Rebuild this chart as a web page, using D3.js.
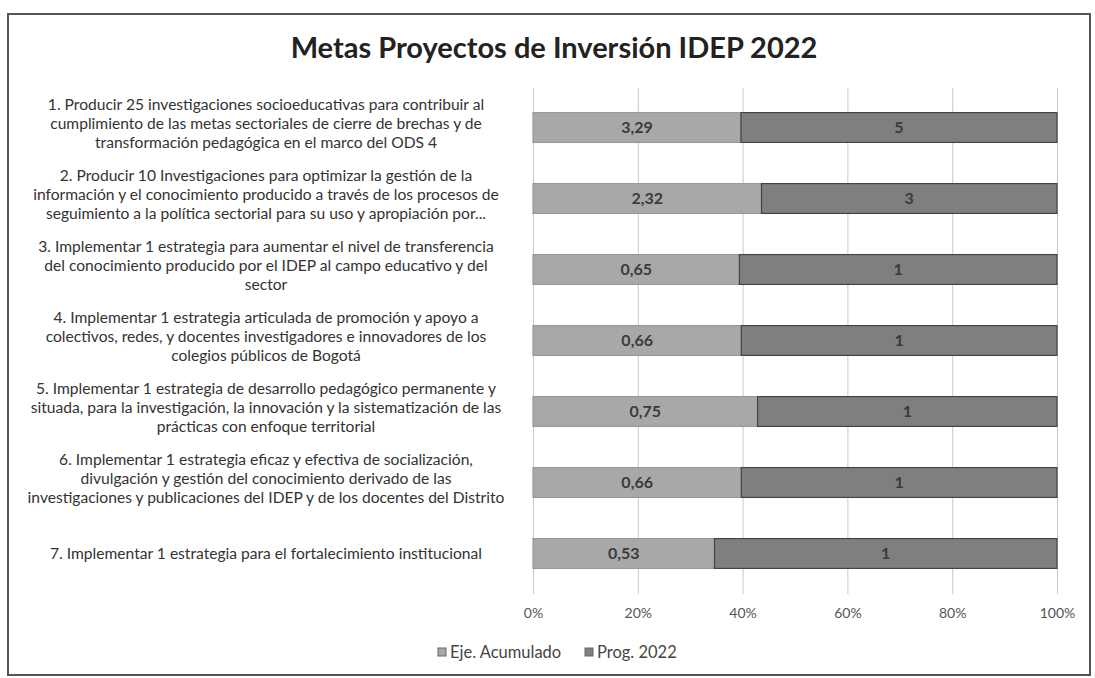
<!DOCTYPE html>
<html>
<head>
<meta charset="utf-8">
<script src="https://cdn.jsdelivr.net/npm/d3@7"></script>
<style>
  body { margin: 0; background: #fff; }
  svg { display: block; font-family: Lato, "Open Sans", sans-serif; }
</style>
</head>
<body>
<div id="chart"></div>
<script>
// Metas (etiquetas del eje, en líneas como aparecen)
const metas = [
    ["1. Producir 25 investigaciones socioeducativas para contribuir al",
     "cumplimiento de las metas sectoriales de cierre de brechas y de",
     "transformación pedagógica en el marco del ODS 4"],
    ["2. Producir 10 Investigaciones para optimizar la gestión de la",
     "información y el conocimiento producido a través de los procesos de",
     "seguimiento a la política sectorial para su uso y apropiación por..."],
    ["3. Implementar 1 estrategia para aumentar el nivel de transferencia",
     "del conocimiento producido por el IDEP al campo educativo y del",
     "sector"],
    ["4. Implementar 1 estrategia articulada de promoción y apoyo a",
     "colectivos, redes, y docentes investigadores e innovadores de los",
     "colegios públicos de Bogotá"],
    ["5. Implementar 1 estrategia de desarrollo pedagógico permanente  y",
     "situada, para la investigación, la innovación y la sistematización de las",
     "prácticas con  enfoque territorial"],
    ["6. Implementar 1 estrategia eficaz y efectiva de socialización,",
     "divulgación  y gestión del conocimiento derivado de las",
     "investigaciones y publicaciones del IDEP y de los docentes del Distrito"],
    ["7. Implementar 1 estrategia para el fortalecimiento institucional"]
];

const ejeAcumulado = [3.29, 2.32, 0.65, 0.66, 0.75, 0.66, 0.53];
const prog2022 = [5, 3, 1, 1, 1, 1, 1];

const seriesNames = ["Eje. Acumulado", "Prog. 2022"];
const xTicks = [0, 0.2, 0.4, 0.6, 0.8, 1];

const W = 1095, H = 678;
const colors = { "Eje. Acumulado": "#a8a8a8", "Prog. 2022": "#7f7f7f" };
const fmt = v => String(v).replace(".", ",");

const rows = metas.map((m, i) => ({
    id: i,
    lines: m,
    "Eje. Acumulado": ejeAcumulado[i],
    "Prog. 2022": prog2022[i]
}));

const svg = d3.select("#chart").append("svg")
    .attr("width", W)
    .attr("height", H);

// marco del gráfico
svg.append("rect")
    .attr("x", 8).attr("y", 14)
    .attr("width", 1082).attr("height", 661)
    .attr("fill", "#fff")
    .attr("stroke", "#555")
    .attr("stroke-width", 2);

// título
svg.append("text")
    .attr("x", 554)
    .attr("y", 58)
    .attr("text-anchor", "middle")
    .attr("font-size", 29)
    .attr("font-weight", "bold")
    .attr("fill", "#222")
    .text("Metas Proyectos de Inversión IDEP 2022");

const x = d3.scaleLinear().domain([0, 1]).range([533, 1057]);
const y = d3.scaleBand()
    .domain(rows.map(d => d.id))
    .range([92, 589])
    .paddingInner(0.58)
    .paddingOuter(0.29);

// rejilla y eje
const axisY = 594;
const axis = svg.append("g")
    .attr("transform", `translate(0,${axisY})`)
    .call(d3.axisBottom(x)
        .tickValues(xTicks)
        .tickFormat(d3.format(".0%"))
        .tickSize(-(axisY - 88))
        .tickPadding(14));
axis.select(".domain").remove();
axis.selectAll(".tick line").attr("stroke", "#c9c9c9");
axis.selectAll(".tick text")
    .attr("font-size", 14)
    .attr("fill", "#555")
    .attr("font-family", "Lato, sans-serif");

// barras apiladas al 100%
const stack = d3.stack()
    .keys(seriesNames)
    .offset(d3.stackOffsetExpand);
const stacked = stack(rows);

const groups = svg.selectAll(".serie")
    .data(stacked)
    .enter().append("g")
    .attr("class", "serie");

groups.selectAll("rect")
    .data(s => s.map(p => ({ key: s.key, p })))
    .enter().append("rect")
    .attr("x", d => x(d.p[0]))
    .attr("y", d => y(d.p.data.id))
    .attr("width", d => x(d.p[1]) - x(d.p[0]))
    .attr("height", y.bandwidth())
    .attr("fill", d => colors[d.key])
    .attr("stroke", d => d.key === "Prog. 2022" ? "#444" : "#999")
    .attr("stroke-width", 1.2);

groups.selectAll("text")
    .data(s => s.map(p => ({ key: s.key, p })))
    .enter().append("text")
    .attr("x", d => (x(d.p[0]) + x(d.p[1])) / 2)
    .attr("y", d => y(d.p.data.id) + y.bandwidth() / 2)
    .attr("dy", "0.35em")
    .attr("text-anchor", "middle")
    .attr("font-size", 16)
    .attr("font-weight", "bold")
    .attr("fill", "#3a3a3a")
    .text(d => fmt(d.p.data[d.key]));

// etiquetas de categorías
const lineH = 19;
const labels = svg.selectAll(".meta")
    .data(rows)
    .enter().append("text")
    .attr("class", "meta")
    .attr("text-anchor", "middle")
    .attr("font-size", 15.6)
    .attr("fill", "#333");

labels.each(function(d) {
    const cy = y(d.id) + y.bandwidth() / 2 - (d.lines.length > 1 ? 4 : 0);
    const y0 = cy - (d.lines.length - 1) * lineH / 2;
    d3.select(this).selectAll("tspan")
        .data(d.lines)
        .enter().append("tspan")
        .attr("x", 266)
        .attr("y", (l, i) => y0 + i * lineH)
        .attr("dy", "0.35em")
        .text(l => l);
});

// leyenda
const legend = svg.append("g").attr("transform", "translate(438,652)");
const legendX = [0, 147];
seriesNames.forEach((name, i) => {
    const g = legend.append("g").attr("transform", `translate(${legendX[i]},0)`);
    g.append("rect")
        .attr("x", 0).attr("y", -4)
        .attr("width", 8).attr("height", 8)
        .attr("fill", colors[name])
        .attr("stroke", "#666");
    g.append("text")
        .attr("x", 12)
        .attr("dy", "0.35em")
        .attr("font-size", 16.5)
        .attr("fill", "#444")
        .text(name);
});
</script>
</body>
</html>
